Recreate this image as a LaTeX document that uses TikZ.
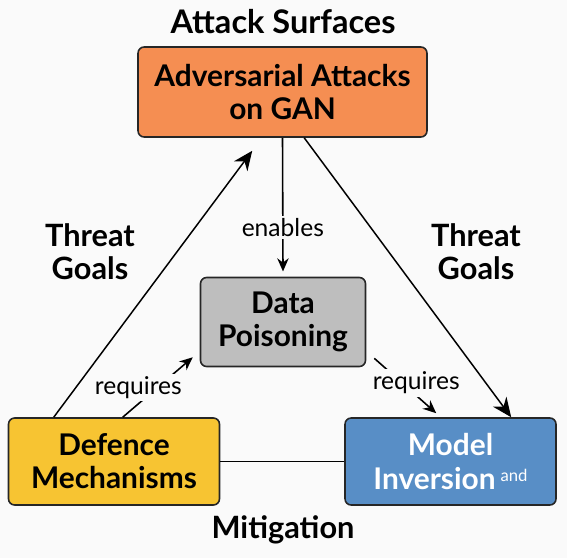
\documentclass[tikz,border=0pt]{standalone}
\usepackage{fontspec}
\setmainfont{Lato}
\usepackage{xcolor}
\usetikzlibrary{arrows.meta,positioning}
\definecolor{bgc}{RGB}{250,250,250}
\definecolor{atkc}{RGB}{245,142,82}
\definecolor{poic}{RGB}{190,190,190}
\definecolor{defc}{RGB}{247,196,50}
\definecolor{invc}{RGB}{88,142,198}
\begin{document}
\begin{tikzpicture}[x=0.02cm,y=-0.02cm,>=Stealth,
box/.style={draw=black!85,line width=0.9pt,rounded corners=3.5pt,align=center,inner sep=0pt,font=\fontsize{17}{18.8}\selectfont\bfseries},
big/.style={line width=0.85pt,-{Stealth[length=11pt,width=9.5pt]}},
small/.style={line width=0.9pt,-{Stealth[length=7.5pt,width=6.5pt]}},
lbl/.style={fill=bgc,inner sep=1.5pt,font=\fontsize{14}{16}\selectfont},
head/.style={align=center,font=\fontsize{17.5}{18.8}\selectfont\bfseries}]
\fill[bgc](0,0)rectangle(567,558);
\node[box,fill=atkc,minimum width=5.78cm,minimum height=1.8cm](atk)at(282.5,92){Adversarial Attacks\\on GAN};
\node[box,fill=poic,minimum width=3.3cm,minimum height=1.78cm](poi)at(283,322){Data\\Poisoning};
\node[box,fill=defc,minimum width=4.22cm,minimum height=1.74cm](def)at(114,461.5){Defence\\Mechanisms};
\node[box,fill=invc,text=white,minimum width=4.22cm,minimum height=1.74cm](inv)at(450.5,461.5){Model\\Inversion\,\raisebox{4.5pt}{\fontsize{9.5}{9.5}\selectfont\mdseries and}};
\node[head,font=\fontsize{18.5}{20}\selectfont\bfseries](ts)at(283,22){Attack Surfaces};
\node[head](mit)at(283,530){Mitigation};
\node[head](tgl)at(90,252){Threat\\Goals};
\node[head](tgr)at(476,252){Threat\\Goals};
\draw[big]([xshift=0.92cm]def.north west)--([shift={(115,13)}]atk.south west);
\draw[big]([xshift=3.34cm]atk.south west)--([xshift=3.34cm]inv.north west);
\draw[line width=0.85pt](def.east)--(inv.west);
\draw[small](atk.south)--node[lbl,pos=0.67]{enables}([yshift=3pt]poi.north);
\draw[small]([xshift=2.3cm]def.north west)--node[lbl,pos=0.5,xshift=-11pt]{requires}([shift={(-7,-10)}]poi.south west);
\draw[small]([shift={(8,-9)}]poi.south east)--node[lbl,pos=0.45,xshift=8pt]{requires}([shift={(92,-4)}]inv.north west);
\end{tikzpicture}
\end{document}
